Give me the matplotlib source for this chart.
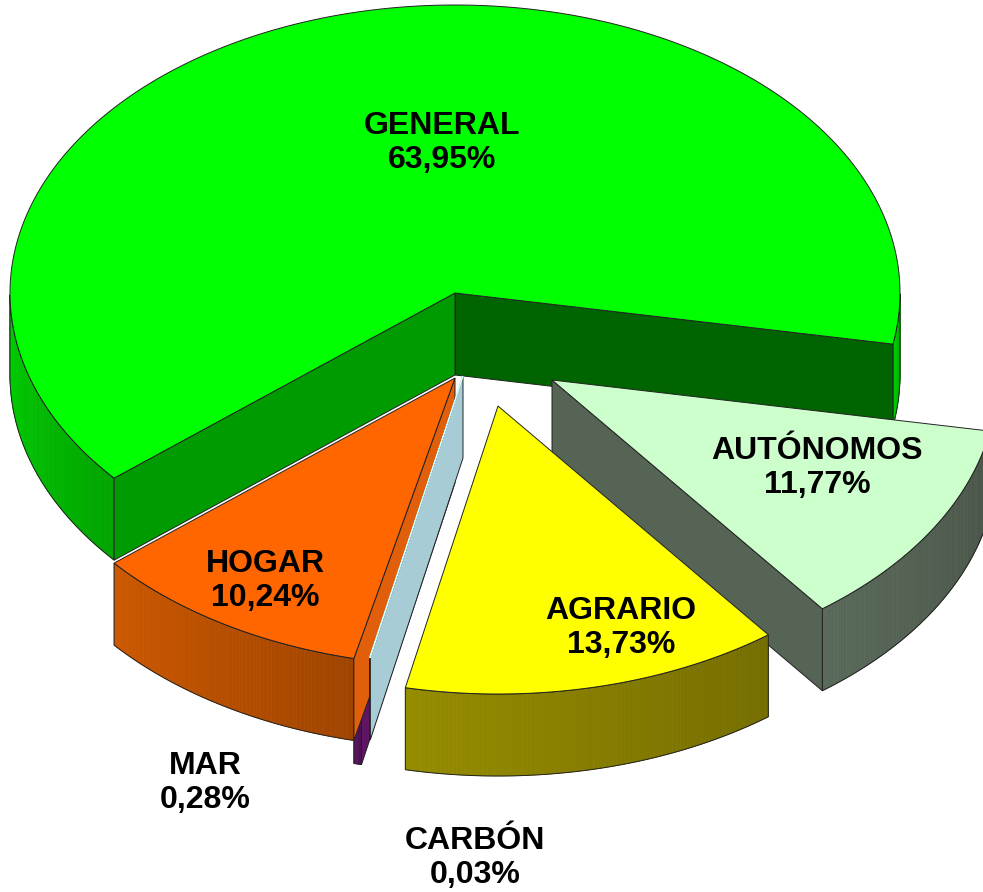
import numpy as np
import matplotlib.pyplot as plt
from matplotlib.patches import Polygon

# data (clockwise, as in the chart)
categories = ['GENERAL', 'AUTÓNOMOS', 'AGRARIO', 'CARBÓN', 'MAR', 'HOGAR']
shares = [63.95, 11.77, 13.73, 0.03, 0.28, 10.24]

# styling
top_colors = ['#00ff00', '#ccffcc', '#ffff00', '#ccffff', '#800080', '#ff6600']
wall_colors = [(0, 210, 0), (90, 106, 90), (150, 140, 0), (150, 190, 200),
               (95, 20, 100), (205, 88, 0)]
face_colors = [((0, 100, 0), (0, 155, 0)), ((85, 100, 85), (85, 100, 85)),
               ((120, 110, 0), (120, 110, 0)), ((168, 204, 214), (168, 204, 214)),
               ((95, 20, 100), (95, 20, 100)), ((225, 95, 10), (225, 95, 10))]
# explode offsets in pixels (x right, y down) from the base centre
explode = [(0, -85), (97, 2), (43, 28), (8, -2), (0, 23), (0, 0)]
label_xy = [(442, 143), (817, 468), (621, 628), (475, 858), (205, 783), (265, 581)]
draw_order = [0, 1, 4, 5, 3, 2]

W, H_PX = 983, 892
CX, CY = 455, 378
RX, RY, DEPTH = 445, 288, 82
START = 220.0
EDGE = '#222222'


def rgb(c, f=1.0):
    return tuple(min(1, v * f / 255) for v in c)


def rim(c, t):
    return np.array([c[0] + RX * np.cos(t), c[1] - RY * np.sin(t)])


fig = plt.figure(figsize=(W / 100, H_PX / 100), dpi=100)
ax = fig.add_axes([0, 0, 1, 1])
ax.set_xlim(0, W)
ax.set_ylim(H_PX, 0)
ax.axis('off')

# angles
bounds = []
a = START
for v in shares:
    t2 = a
    t1 = a - v * 3.6
    bounds.append((np.radians(t1), np.radians(t2)))
    a = t1

down = np.array([0, DEPTH])

for i in draw_order:
    t1, t2 = bounds[i]
    c = np.array([CX + explode[i][0], CY + explode[i][1]])
    n = max(3, int(np.degrees(t2 - t1) * 2))
    ts = np.linspace(t1, t2, n)

    # outer wall, front-facing parts only
    vis = np.sin(ts) < 0
    runs = []
    cur = []
    for t, ok in zip(ts, vis):
        if ok:
            cur.append(t)
        elif cur:
            runs.append(cur)
            cur = []
    if cur:
        runs.append(cur)
    for run in runs:
        run = np.array(run)
        if len(run) < 2:
            continue
        top = np.array([rim(c, t) for t in run])
        span = run[-1] - run[0]
        for k in range(len(run) - 1):
            frac = ((run[k] + run[k + 1]) / 2 - run[0]) / span
            col = rgb(wall_colors[i], 1.0 - 0.22 * frac)
            quad = [top[k], top[k + 1], top[k + 1] + down, top[k] + down]
            ax.add_patch(Polygon(quad, closed=True, facecolor=col,
                                 edgecolor=col, lw=0.5))
        outline = np.vstack([top, (top + down)[::-1]])
        ax.add_patch(Polygon(outline, closed=True, fill=False,
                             edgecolor=EDGE, lw=0.7))

    # radial cut faces
    for t, col, visible in ((t1, face_colors[i][0], np.cos(t1) > 0),
                            (t2, face_colors[i][1], np.cos(t2) < 0)):
        if visible:
            p = rim(c, t)
            quad = [c, p, p + down, c + down]
            ax.add_patch(Polygon(quad, closed=True, facecolor=rgb(col),
                                 edgecolor=EDGE, lw=0.7))

    # top
    pts = np.vstack([c, [rim(c, t) for t in ts]])
    ec = EDGE if shares[i] > 1 else top_colors[i]
    ax.add_patch(Polygon(pts, closed=True, facecolor=top_colors[i],
                         edgecolor=ec, lw=0.7))

for name, v, (x, y) in zip(categories, shares, label_xy):
    pct = f"{v:.2f}".replace('.', ',') + '%'
    ax.text(x, y, f"{name}\n{pct}", ha='center', va='center',
            fontsize=23, fontweight='bold', family='Liberation Sans',
            color='black', linespacing=1.15)

fig.savefig('out.png', dpi=100)
